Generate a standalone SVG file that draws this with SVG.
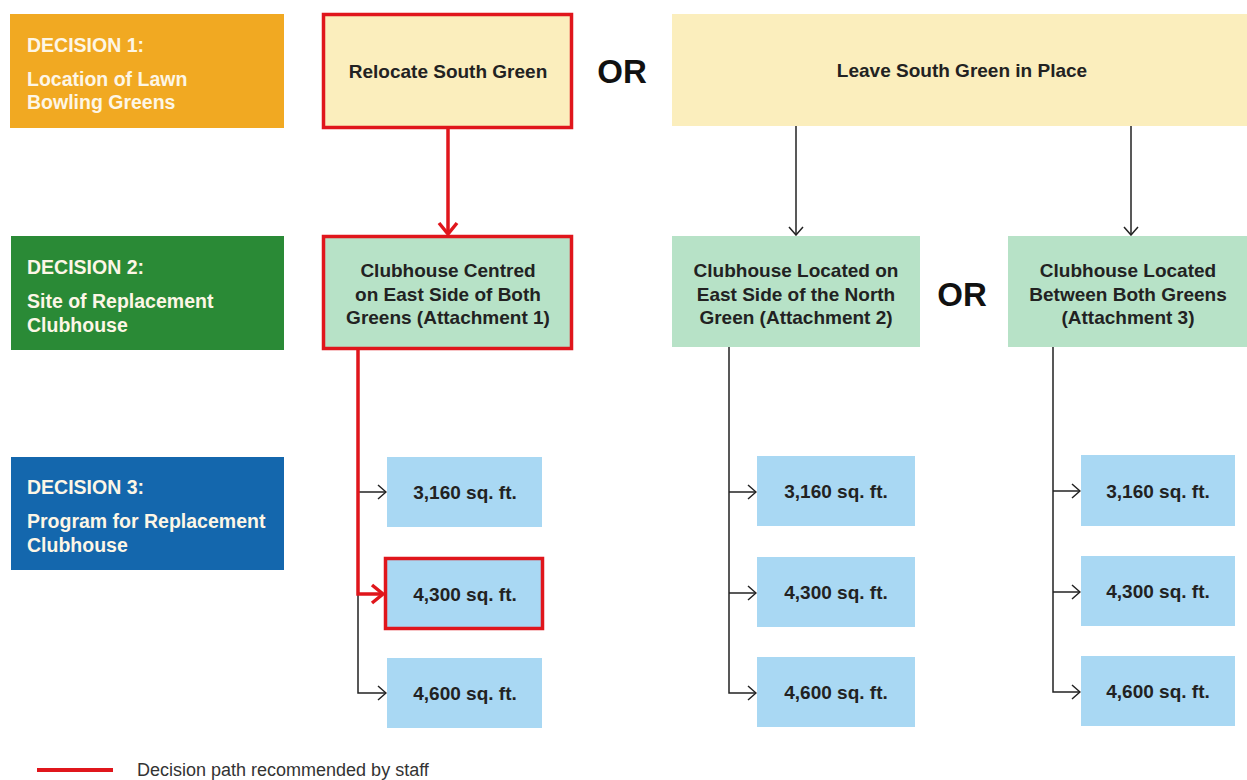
<svg xmlns="http://www.w3.org/2000/svg" width="1247" height="780" viewBox="0 0 1247 780">
<style>
.dec{font-family:"Liberation Sans",Arial,sans-serif;font-weight:bold;fill:#fdf6e6}
.dh{font-size:19.5px}
.ds{font-size:19.5px}
.t{font-family:"Liberation Sans",Arial,sans-serif;font-weight:bold;font-size:19px;fill:#222;text-anchor:middle}
.or{font-family:"Liberation Sans",Arial,sans-serif;font-weight:bold;font-size:33px;fill:#111;text-anchor:middle}
.yel{fill:#fbeebd}
.grn{fill:#b7e2c7}
.blu{fill:#a9d8f3}
.sel{stroke:#e0161c;stroke-width:3.5}
.k{stroke:#222;stroke-width:1.5;fill:none}
.r{stroke:#e0161c;stroke-width:3.5;fill:none}
</style>
<defs>
<marker id="ak" markerWidth="12" markerHeight="16" refX="11" refY="8" orient="auto" markerUnits="userSpaceOnUse">
<path d="M3,1 L11,8 L3,15" fill="none" stroke="#222" stroke-width="1.5"/>
</marker>
<marker id="ar" markerWidth="18" markerHeight="22" refX="15" refY="11" orient="auto" markerUnits="userSpaceOnUse">
<path d="M4,2 L15,11 L4,20" fill="none" stroke="#e0161c" stroke-width="3.5"/>
</marker>
</defs>
<rect width="1247" height="780" fill="#fff"/>

<g id="decision1">
<rect x="10" y="14" width="274" height="114" fill="#f1a922"/>
<text class="dec dh" x="27" y="52">DECISION 1:</text>
<text class="dec ds" x="27" y="86">Location of Lawn</text>
<text class="dec ds" x="27" y="109">Bowling Greens</text>
</g>
<g id="decision2">
<rect x="11" y="236" width="273" height="114" fill="#2a8a36"/>
<text class="dec dh" x="27" y="274">DECISION 2:</text>
<text class="dec ds" x="27" y="308">Site of Replacement</text>
<text class="dec ds" x="27" y="332">Clubhouse</text>
</g>
<g id="decision3">
<rect x="11" y="457" width="273" height="113" fill="#1467ad"/>
<text class="dec dh" x="27" y="494">DECISION 3:</text>
<text class="dec ds" x="27" y="528">Program for Replacement</text>
<text class="dec ds" x="27" y="552">Clubhouse</text>
</g>

<g id="relocate">
<rect class="yel sel" x="323.5" y="14.5" width="248" height="113"/>
<text class="t" x="448" y="78">Relocate South Green</text>
</g>
<text class="or" x="622" y="83">OR</text>
<g id="leave">
<rect class="yel" x="672" y="14" width="575" height="112"/>
<text class="t" x="962" y="77">Leave South Green in Place</text>
</g>

<g id="site1">
<rect class="grn sel" x="323.5" y="236.5" width="248" height="112"/>
<text class="t" x="448" y="277">Clubhouse Centred</text>
<text class="t" x="448" y="300.5">on East Side of Both</text>
<text class="t" x="448" y="324">Greens (Attachment 1)</text>
</g>
<g id="site2">
<rect class="grn" x="672" y="236" width="248" height="111"/>
<text class="t" x="796" y="277">Clubhouse Located on</text>
<text class="t" x="796" y="300.5">East Side of the North</text>
<text class="t" x="796" y="324">Green (Attachment 2)</text>
</g>
<text class="or" x="962" y="306">OR</text>
<g id="site3">
<rect class="grn" x="1008" y="236" width="239" height="111"/>
<text class="t" x="1128" y="277">Clubhouse Located</text>
<text class="t" x="1128" y="300.5">Between Both Greens</text>
<text class="t" x="1128" y="324">(Attachment 3)</text>
</g>

<g id="p1a"><rect class="blu" x="387" y="457" width="155" height="70"/><text class="t" x="465" y="499">3,160 sq. ft.</text></g>
<g id="p1b"><rect class="blu sel" x="385.5" y="558.5" width="157" height="70"/><text class="t" x="465" y="601">4,300 sq. ft.</text></g>
<g id="p1c"><rect class="blu" x="387" y="658" width="155" height="70"/><text class="t" x="465" y="700">4,600 sq. ft.</text></g>

<g id="p2a"><rect class="blu" x="757" y="456" width="158" height="70"/><text class="t" x="836" y="498">3,160 sq. ft.</text></g>
<g id="p2b"><rect class="blu" x="757" y="557" width="158" height="70"/><text class="t" x="836" y="599">4,300 sq. ft.</text></g>
<g id="p2c"><rect class="blu" x="757" y="657" width="158" height="70"/><text class="t" x="836" y="699">4,600 sq. ft.</text></g>

<g id="p3a"><rect class="blu" x="1081" y="455" width="154" height="71"/><text class="t" x="1158" y="498">3,160 sq. ft.</text></g>
<g id="p3b"><rect class="blu" x="1081" y="556" width="154" height="70"/><text class="t" x="1158" y="598">4,300 sq. ft.</text></g>
<g id="p3c"><rect class="blu" x="1081" y="656" width="154" height="70"/><text class="t" x="1158" y="698">4,600 sq. ft.</text></g>

<g id="connectors">
<line class="r" x1="448" y1="128" x2="448" y2="234" marker-end="url(#ar)"/>
<line class="k" x1="796" y1="126" x2="796" y2="235" marker-end="url(#ak)"/>
<line class="k" x1="1131" y1="126" x2="1131" y2="235" marker-end="url(#ak)"/>

<path class="k" d="M358,594 L358,693 L386,693" marker-end="url(#ak)"/>
<line class="k" x1="358" y1="492" x2="386" y2="492" marker-end="url(#ak)"/>
<path class="r" d="M358,350 L358,594 L383,594" marker-end="url(#ar)"/>

<path class="k" d="M729,347 L729,693 L756,693" marker-end="url(#ak)"/>
<line class="k" x1="729" y1="492" x2="756" y2="492" marker-end="url(#ak)"/>
<line class="k" x1="729" y1="593" x2="756" y2="593" marker-end="url(#ak)"/>

<path class="k" d="M1053,347 L1053,692 L1080,692" marker-end="url(#ak)"/>
<line class="k" x1="1053" y1="491" x2="1080" y2="491" marker-end="url(#ak)"/>
<line class="k" x1="1053" y1="592" x2="1080" y2="592" marker-end="url(#ak)"/>
</g>

<g id="legend">
<line x1="37" y1="770" x2="113" y2="770" stroke="#e0161c" stroke-width="4"/>
<text x="137" y="776" font-family="Liberation Sans,Arial,sans-serif" font-size="18" fill="#333">Decision path recommended by staff</text>
</g>
</svg>
